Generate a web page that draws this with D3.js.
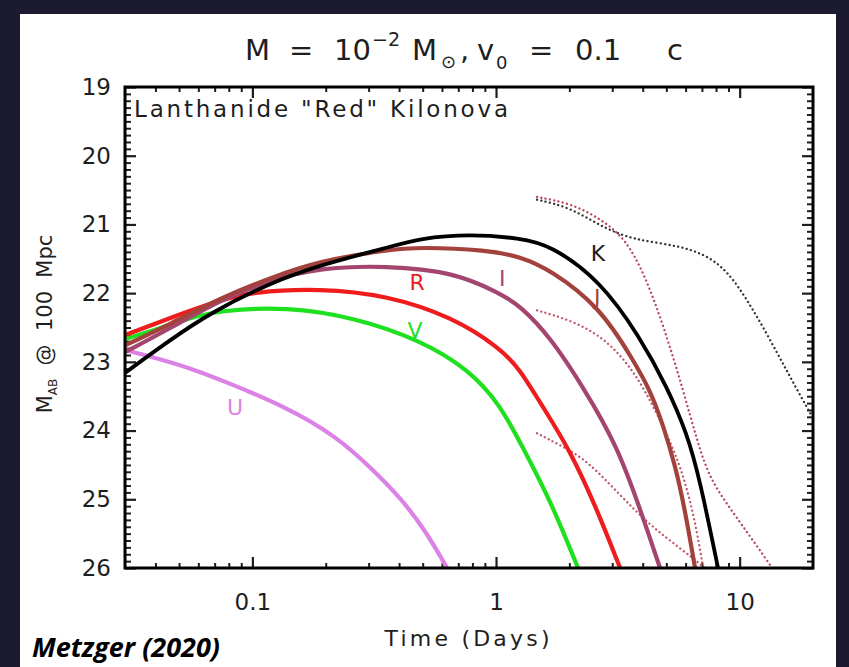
<!DOCTYPE html>
<html>
<head>
<meta charset="utf-8">
<script src="https://cdn.jsdelivr.net/npm/d3@7"></script>
<style>
  html, body { margin: 0; padding: 0; background: #1b1a30; }
  svg { display: block; }
</style>
</head>
<body>
<svg id="chart" width="849" height="667"></svg>
<script>
// Kilonova light curves: absolute AB magnitude at 100 Mpc vs. time (days)
const bandNames = ["U", "V", "R", "I", "J", "K"];
const bandColors = ["#dc82e6", "#1fe01f", "#ee1c1c", "#a3456f", "#a3423d", "#000000"];

const curveU = [[0.030,22.83],[0.039,22.93],[0.0555,23.09],[0.074,23.26],[0.139,23.66],[0.222,24.09],[0.304,24.53],[0.404,24.97],[0.512,25.45],[0.63,26.0]];
const curveV = [[0.030,22.67],[0.042,22.51],[0.0555,22.36],[0.074,22.25],[0.139,22.20],[0.259,22.35],[0.488,22.68],[0.78,23.12],[1.04,23.63],[1.26,24.18],[1.67,25.01],[2.17,26.0]];
const curveR = [[0.030,22.61],[0.046,22.36],[0.074,22.10],[0.10,21.98],[0.189,21.93],[0.357,22.03],[0.665,22.35],[1.04,22.80],[1.26,23.12],[1.52,23.60],[2.01,24.28],[2.60,25.15],[3.23,26.0]];
const curveI = [[0.030,22.86],[0.046,22.51],[0.074,22.10],[0.118,21.81],[0.189,21.63],[0.357,21.60],[0.665,21.69],[1.04,22.00],[1.26,22.19],[1.67,22.64],[2.28,23.37],[3.14,24.21],[4.01,25.26],[4.71,26.0]];
const curveJ = [[0.030,22.76],[0.046,22.45],[0.074,22.07],[0.118,21.78],[0.189,21.53],[0.357,21.37],[0.488,21.33],[0.918,21.37],[1.26,21.47],[1.67,21.66],[2.67,22.20],[3.65,22.97],[4.29,23.41],[4.85,23.92],[5.43,24.50],[5.97,25.16],[6.56,26.0]];
const curveK = [[0.030,23.16],[0.046,22.68],[0.067,22.29],[0.118,21.85],[0.189,21.59],[0.357,21.34],[0.488,21.20],[0.78,21.14],[1.26,21.20],[1.67,21.30],[2.67,21.81],[3.90,22.64],[5.04,23.37],[6.08,24.04],[6.87,24.72],[8.15,26.0]];
const bandCurves = [curveU, curveV, curveR, curveI, curveJ, curveK];

// band label anchor points [time, magnitude]
const bandLabelPos = [[0.0849,23.66],[0.465,22.54],[0.474,21.85],[1.06,21.78],[2.60,22.07],[2.62,21.42]];

// comparison models (dotted)
const dottedA = [[1.473,20.64],[2.01,20.75],[2.67,21.02],[3.65,21.23],[5.86,21.31],[8.07,21.52],[10.0,21.91],[12.9,22.58],[16.1,23.22],[20.0,23.82]];
const dottedB = [[1.473,20.60],[2.01,20.69],[2.67,20.91],[3.39,21.20],[4.09,21.74],[4.94,22.54],[5.86,23.41],[6.68,24.14],[7.55,24.72],[9.57,25.23],[12.1,25.74],[13.6,26.0]];
const dottedC = [[1.473,22.25],[2.01,22.39],[2.67,22.61],[3.39,22.97],[4.09,23.41],[4.94,23.99],[5.80,24.57],[6.56,25.30],[7.08,26.0]];
const dottedD = [[1.473,24.04],[1.83,24.21],[2.36,24.43],[3.23,24.94],[4.29,25.38],[5.69,25.71],[7.21,26.0]];
const dottedCurves = [dottedA, dottedB, dottedC, dottedD];
const dottedColors = ["#333333", "#b8485a", "#c05868", "#c05868"];

// axes
const xDomain = [0.03, 20];
const yDomain = [19, 26];
const xMajorTicks = [0.1, 1, 10];
const xTickLabels = ["0.1", "1", "10"];
const yMajorTicks = [19, 20, 21, 22, 23, 24, 25, 26];

const svg = d3.select("#chart");
const W = 849, H = 667;
const plot = { left: 125, right: 813, top: 87, bottom: 568 };
const ink = "#1e1e1e";
const font = "DejaVu Sans, Liberation Sans, sans-serif";

// white panel
svg.append("rect").attr("x", 20).attr("y", 14).attr("width", 816).attr("height", H - 14).attr("fill", "#ffffff");

const x = d3.scaleLog().domain(xDomain).range([plot.left, plot.right]);
const y = d3.scaleLinear().domain(yDomain).range([plot.top, plot.bottom]);

// minor tick values
const xMinor = [];
[0.01, 0.1, 1, 10].forEach(dec => {
  for (let k = 2; k <= 9; k++) {
    const v = dec * k;
    if (v > xDomain[0] && v < xDomain[1]) xMinor.push(v);
  }
});
const yMinor = d3.range(190, 261).map(v => v / 10).filter(v => !yMajorTicks.includes(v));

function styleAxis(g, width) {
  g.select(".domain").remove();
  g.selectAll(".tick line").attr("stroke", ink).attr("stroke-width", width);
  g.selectAll(".tick text").attr("fill", ink).attr("font-family", font).attr("font-size", 23);
}

// bottom
svg.append("g").attr("transform", `translate(0,${plot.bottom})`)
  .call(d3.axisBottom(x).tickValues(xMinor).tickSize(-5).tickSizeOuter(0).tickFormat(""))
  .call(g => styleAxis(g, 2));
svg.append("g").attr("transform", `translate(0,${plot.bottom})`)
  .call(d3.axisBottom(x).tickValues(xMajorTicks).tickSize(-11).tickSizeOuter(0).tickPadding(26)
    .tickFormat((d, i) => xTickLabels[i]))
  .call(g => styleAxis(g, 2.2));
// top
svg.append("g").attr("transform", `translate(0,${plot.top})`)
  .call(d3.axisTop(x).tickValues(xMinor).tickSize(-5).tickSizeOuter(0).tickFormat(""))
  .call(g => styleAxis(g, 2));
svg.append("g").attr("transform", `translate(0,${plot.top})`)
  .call(d3.axisTop(x).tickValues(xMajorTicks).tickSize(-11).tickSizeOuter(0).tickFormat(""))
  .call(g => styleAxis(g, 2.2));
// left
svg.append("g").attr("transform", `translate(${plot.left},0)`)
  .call(d3.axisLeft(y).tickValues(yMinor).tickSize(-6).tickSizeOuter(0).tickFormat(""))
  .call(g => styleAxis(g, 2));
svg.append("g").attr("transform", `translate(${plot.left},0)`)
  .call(d3.axisLeft(y).tickValues(yMajorTicks).tickSize(-11).tickSizeOuter(0).tickPadding(14).tickFormat(d3.format("d")))
  .call(g => styleAxis(g, 2.2));
// right
svg.append("g").attr("transform", `translate(${plot.right},0)`)
  .call(d3.axisRight(y).tickValues(yMinor).tickSize(-6).tickSizeOuter(0).tickFormat(""))
  .call(g => styleAxis(g, 2));
svg.append("g").attr("transform", `translate(${plot.right},0)`)
  .call(d3.axisRight(y).tickValues(yMajorTicks).tickSize(-11).tickSizeOuter(0).tickFormat(""))
  .call(g => styleAxis(g, 2.2));

// clip
svg.append("clipPath").attr("id", "plotclip").append("rect")
  .attr("x", plot.left).attr("y", plot.top)
  .attr("width", plot.right - plot.left).attr("height", plot.bottom - plot.top);

const line = d3.line().x(d => x(d[0])).y(d => y(d[1])).curve(d3.curveBasis);
const curves = svg.append("g").attr("clip-path", "url(#plotclip)");

dottedCurves.forEach((c, i) => {
  curves.append("path").attr("d", line(c)).attr("fill", "none")
    .attr("stroke", dottedColors[i]).attr("stroke-width", 2.3)
    .attr("stroke-linecap", "round").attr("stroke-dasharray", "0.1,4.3");
});

bandCurves.forEach((c, i) => {
  curves.append("path").attr("d", line(c)).attr("fill", "none")
    .attr("stroke", bandColors[i]).attr("stroke-width", i === 5 ? 3.8 : 4.2)
    .attr("stroke-linejoin", "round").attr("stroke-linecap", "round");
});

// frame
svg.append("rect").attr("x", plot.left).attr("y", plot.top)
  .attr("width", plot.right - plot.left).attr("height", plot.bottom - plot.top)
  .attr("fill", "none").attr("stroke", "#000").attr("stroke-width", 3);

// band labels
bandNames.forEach((b, i) => {
  svg.append("text").attr("x", x(bandLabelPos[i][0])).attr("y", y(bandLabelPos[i][1]))
    .attr("text-anchor", "middle").attr("dominant-baseline", "central")
    .attr("font-family", font).attr("font-size", 22)
    .attr("fill", i === 5 ? ink : bandColors[i]).text(b);
});

// inner caption
svg.append("text").attr("x", 134).attr("y", 117)
  .attr("font-family", font).attr("font-size", 23).attr("fill", ink)
  .attr("textLength", 374).attr("lengthAdjust", "spacing")
  .text('Lanthanide "Red" Kilonova');

// title
const title = svg.append("g").attr("font-family", font).attr("fill", ink);
const tPieces = [
  ["M", 245, 60, 29], ["=", 289, 60, 29], ["10", 334, 60, 29], ["\u22122", 372, 46, 19],
  ["M", 412, 60, 29], ["\u2299", 441, 68, 18], [",", 460, 60, 29], ["v", 477, 60, 29],
  ["0", 496, 69, 18], ["=", 529, 60, 29], ["0.1", 575, 60, 29], ["c", 667, 60, 29]
];
tPieces.forEach(p => title.append("text").attr("x", p[1]).attr("y", p[2]).attr("font-size", p[3]).text(p[0]));

// x axis title
svg.append("text").attr("x", 467).attr("y", 646).attr("text-anchor", "middle")
  .attr("font-family", font).attr("font-size", 22).attr("fill", ink)
  .attr("textLength", 165).attr("lengthAdjust", "spacing")
  .text("Time (Days)");

// y axis title
const yt = svg.append("text").attr("transform", "translate(52,324) rotate(-90)")
  .attr("text-anchor", "middle").attr("font-family", font).attr("font-size", 21).attr("fill", ink);
yt.append("tspan").text("M");
yt.append("tspan").attr("font-size", 12).attr("dy", 5).text("AB");
yt.append("tspan").attr("dy", -5).attr("xml:space", "preserve").text("  @  100  Mpc");

// credit
svg.append("text").attr("x", 32).attr("y", 657)
  .attr("font-family", "Open Sans, sans-serif").attr("font-weight", 700).attr("font-style", "italic")
  .attr("font-size", 27).attr("fill", "#000").text("Metzger (2020)");
</script>
</body>
</html>
